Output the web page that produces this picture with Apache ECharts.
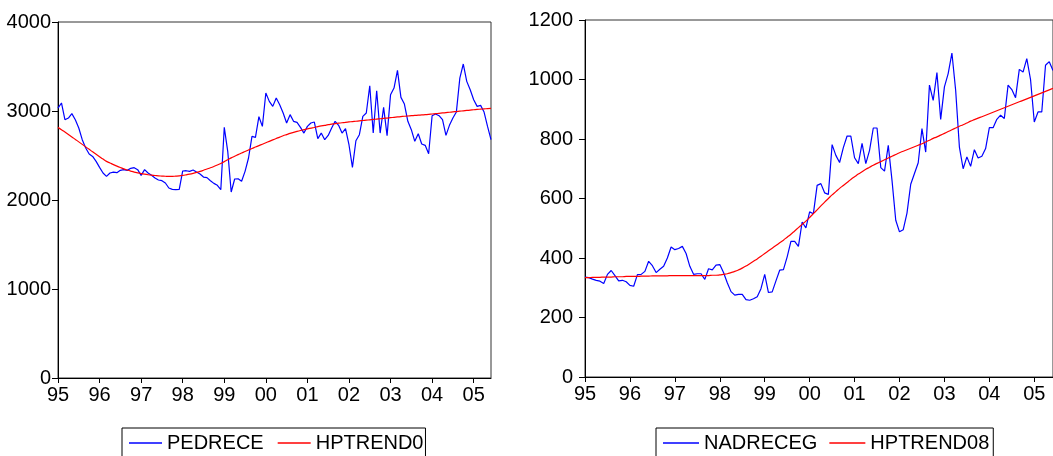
<!DOCTYPE html>
<html>
<head>
<meta charset="utf-8">
<script src="https://cdn.jsdelivr.net/npm/echarts@6/dist/echarts.min.js"></script>
<style>
html,body{margin:0;padding:0;background:#fff;}
#chart{width:1053px;height:456px;}
</style>
</head>
<body>
<div id="chart"></div>
<script>
// Monthly observations 1995M01 .. 2005M06 (126 points)
const yearLabels = ['95','96','97','98','99','00','01','02','03','04','05'];
const months = [];
for (let y = 1995; y <= 2005; y++) {
  for (let m = 1; m <= 12; m++) {
    if (y === 2005 && m > 6) break;
    months.push(y + 'M' + String(m).padStart(2, '0'));
  }
}

const pedrece = [
  3033,3090,2902,2921,2970,2902,2809,2678,2584,2517,2490,2434,
  2367,2303,2266,2303,2314,2307,2333,2341,2333,2356,2363,2341,
  2277,2341,2303,2277,2247,2225,2217,2191,2135,2120,2116,2120,
  2326,2329,2322,2337,2314,2292,2258,2251,2217,2187,2165,2116,
  2816,2547,2090,2236,2239,2210,2322,2472,2715,2704,2936,2827,
  3202,3108,3052,3146,3071,2977,2865,2959,2884,2872,2816,2752,
  2827,2865,2876,2689,2752,2678,2726,2809,2884,2839,2752,2801,
  2621,2367,2666,2734,2940,2977,3284,2752,3228,2752,3041,2723,
  3183,3258,3457,3153,3078,2884,2790,2659,2745,2629,2614,2520,
  2947,2966,2947,2902,2726,2839,2921,2988,3370,3528,3333,3239,
  3127,3052,3063,2988,2827,2678
];
const hptrend0 = [
  2816,2790,2763,2736,2709,2681,2653,2625,2597,2569,2541,2514,
  2487,2460,2434,2416,2398,2381,2365,2350,2337,2325,2314,2305,
  2297,2290,2284,2279,2275,2271,2269,2267,2266,2266,2268,2271,
  2276,2283,2291,2300,2310,2321,2334,2348,2362,2377,2393,2411,
  2431,2452,2473,2492,2510,2528,2545,2562,2579,2595,2611,2627,
  2643,2659,2675,2691,2707,2722,2735,2748,2760,2771,2781,2790,
  2799,2807,2815,2825,2832,2839,2846,2852,2858,2863,2868,2873,
  2877,2881,2885,2889,2893,2897,2901,2905,2909,2913,2917,2921,
  2925,2929,2933,2937,2941,2944,2947,2950,2953,2956,2959,2962,
  2966,2970,2974,2978,2982,2986,2990,2994,2998,3002,3006,3010,
  3014,3018,3021,3024,3027,3030
];
const nadreceg = [
  336,334,329,325,322,314,345,358,341,323,325,320,
  308,305,344,345,355,389,374,351,362,372,400,437,
  428,432,439,415,372,345,347,347,328,364,360,376,
  378,351,317,287,275,278,278,260,258,263,270,297,
  345,284,286,323,359,361,404,456,456,439,521,501,
  555,549,644,650,619,614,781,745,721,771,810,810,
  737,717,785,717,762,837,837,704,692,779,661,527,
  488,495,551,648,684,720,835,756,981,930,1023,866,
  975,1020,1089,964,773,700,740,708,764,736,742,768,
  838,838,866,880,869,981,966,939,1034,1025,1070,1000,
  857,891,891,1048,1060,1030
];
const hptrend08 = [
  334,334,335,335,335,336,336,336,337,337,337,338,
  338,338,338,339,339,339,340,340,340,340,340,341,
  341,341,341,341,341,341,341,341,341,341,342,342,
  343,345,347,351,355,360,366,373,381,389,397,406,
  415,424,433,442,451,460,470,480,491,502,513,524,
  536,549,562,575,588,600,612,623,634,644,654,664,
  673,682,690,698,705,712,718,724,730,736,742,748,
  754,759,764,769,774,779,784,790,796,802,807,813,
  819,825,831,837,843,848,854,860,865,870,875,880,
  885,890,895,900,905,910,915,920,925,930,935,940,
  945,950,955,960,965,970
];

const FONT = "'Liberation Sans', Arial, sans-serif";
const BLUE = '#0000FF', RED = '#FF0000';

function xAxisCfg(gridIndex, margin) {
  return {
    type: 'category', gridIndex, data: months, boundaryGap: false,
    axisLine: { show: true, lineStyle: { color: '#000', width: 1 } },
    axisTick: { show: true, interval: 11, length: 5, lineStyle: { color: '#000' } },
    axisLabel: {
      interval: 11, margin, color: '#000', fontSize: 20, fontFamily: FONT,
      formatter: (v, i) => yearLabels[Math.round(i / 12)]
    },
    splitLine: { show: false }
  };
}
function yAxisCfg(gridIndex, max, interval, margin) {
  return {
    type: 'value', gridIndex, min: 0, max, interval,
    axisLine: { show: true, lineStyle: { color: '#000', width: 1 } },
    axisTick: { show: true, length: 6, lineStyle: { color: '#000' } },
    axisLabel: { margin, color: '#000', fontSize: 20, fontFamily: FONT, formatter: v => String(v) },
    splitLine: { show: false }
  };
}

const chart = echarts.init(document.getElementById('chart'), null, { renderer: 'canvas' });
chart.setOption({
  animation: false,
  backgroundColor: '#fff',
  grid: [
    { left: 58, top: 22, width: 433, height: 356, show: true, borderColor: '#333', borderWidth: 1, backgroundColor: 'transparent' },
    { left: 585, top: 20, width: 476, height: 357, show: true, borderColor: '#333', borderWidth: 1, backgroundColor: 'transparent' }
  ],
  xAxis: [xAxisCfg(0, 7), xAxisCfg(1, 7)],
  yAxis: [yAxisCfg(0, 4000, 1000, 7), yAxisCfg(1, 1200, 200, 12)],
  legend: [
    {
      left: 122, top: 428, orient: 'horizontal',
      data: ['PEDRECE', 'HPTREND0'],
      icon: 'rect', itemWidth: 33, itemHeight: 1.5, itemGap: 14,
      padding: [5, 2, 12, 7],
      borderColor: '#000', borderWidth: 1,
      textStyle: { color: '#000', fontSize: 20, fontFamily: FONT }
    },
    {
      left: 656, top: 428, orient: 'horizontal',
      data: ['NADRECEG', 'HPTREND08'],
      icon: 'rect', itemWidth: 36, itemHeight: 1.5, itemGap: 12,
      padding: [5, 4, 12, 7],
      borderColor: '#000', borderWidth: 1,
      textStyle: { color: '#000', fontSize: 20, fontFamily: FONT }
    }
  ],
  series: [
    { name: 'PEDRECE', type: 'line', xAxisIndex: 0, yAxisIndex: 0, data: pedrece, symbol: 'none', lineStyle: { color: BLUE, width: 1.2 }, itemStyle: { color: BLUE } },
    { name: 'HPTREND0', type: 'line', xAxisIndex: 0, yAxisIndex: 0, data: hptrend0, symbol: 'none', smooth: true, lineStyle: { color: RED, width: 1.2 }, itemStyle: { color: RED } },
    { name: 'NADRECEG', type: 'line', xAxisIndex: 1, yAxisIndex: 1, data: nadreceg, symbol: 'none', lineStyle: { color: BLUE, width: 1.2 }, itemStyle: { color: BLUE } },
    { name: 'HPTREND08', type: 'line', xAxisIndex: 1, yAxisIndex: 1, data: hptrend08, symbol: 'none', smooth: true, lineStyle: { color: RED, width: 1.2 }, itemStyle: { color: RED } }
  ]
});
</script>
</body>
</html>
